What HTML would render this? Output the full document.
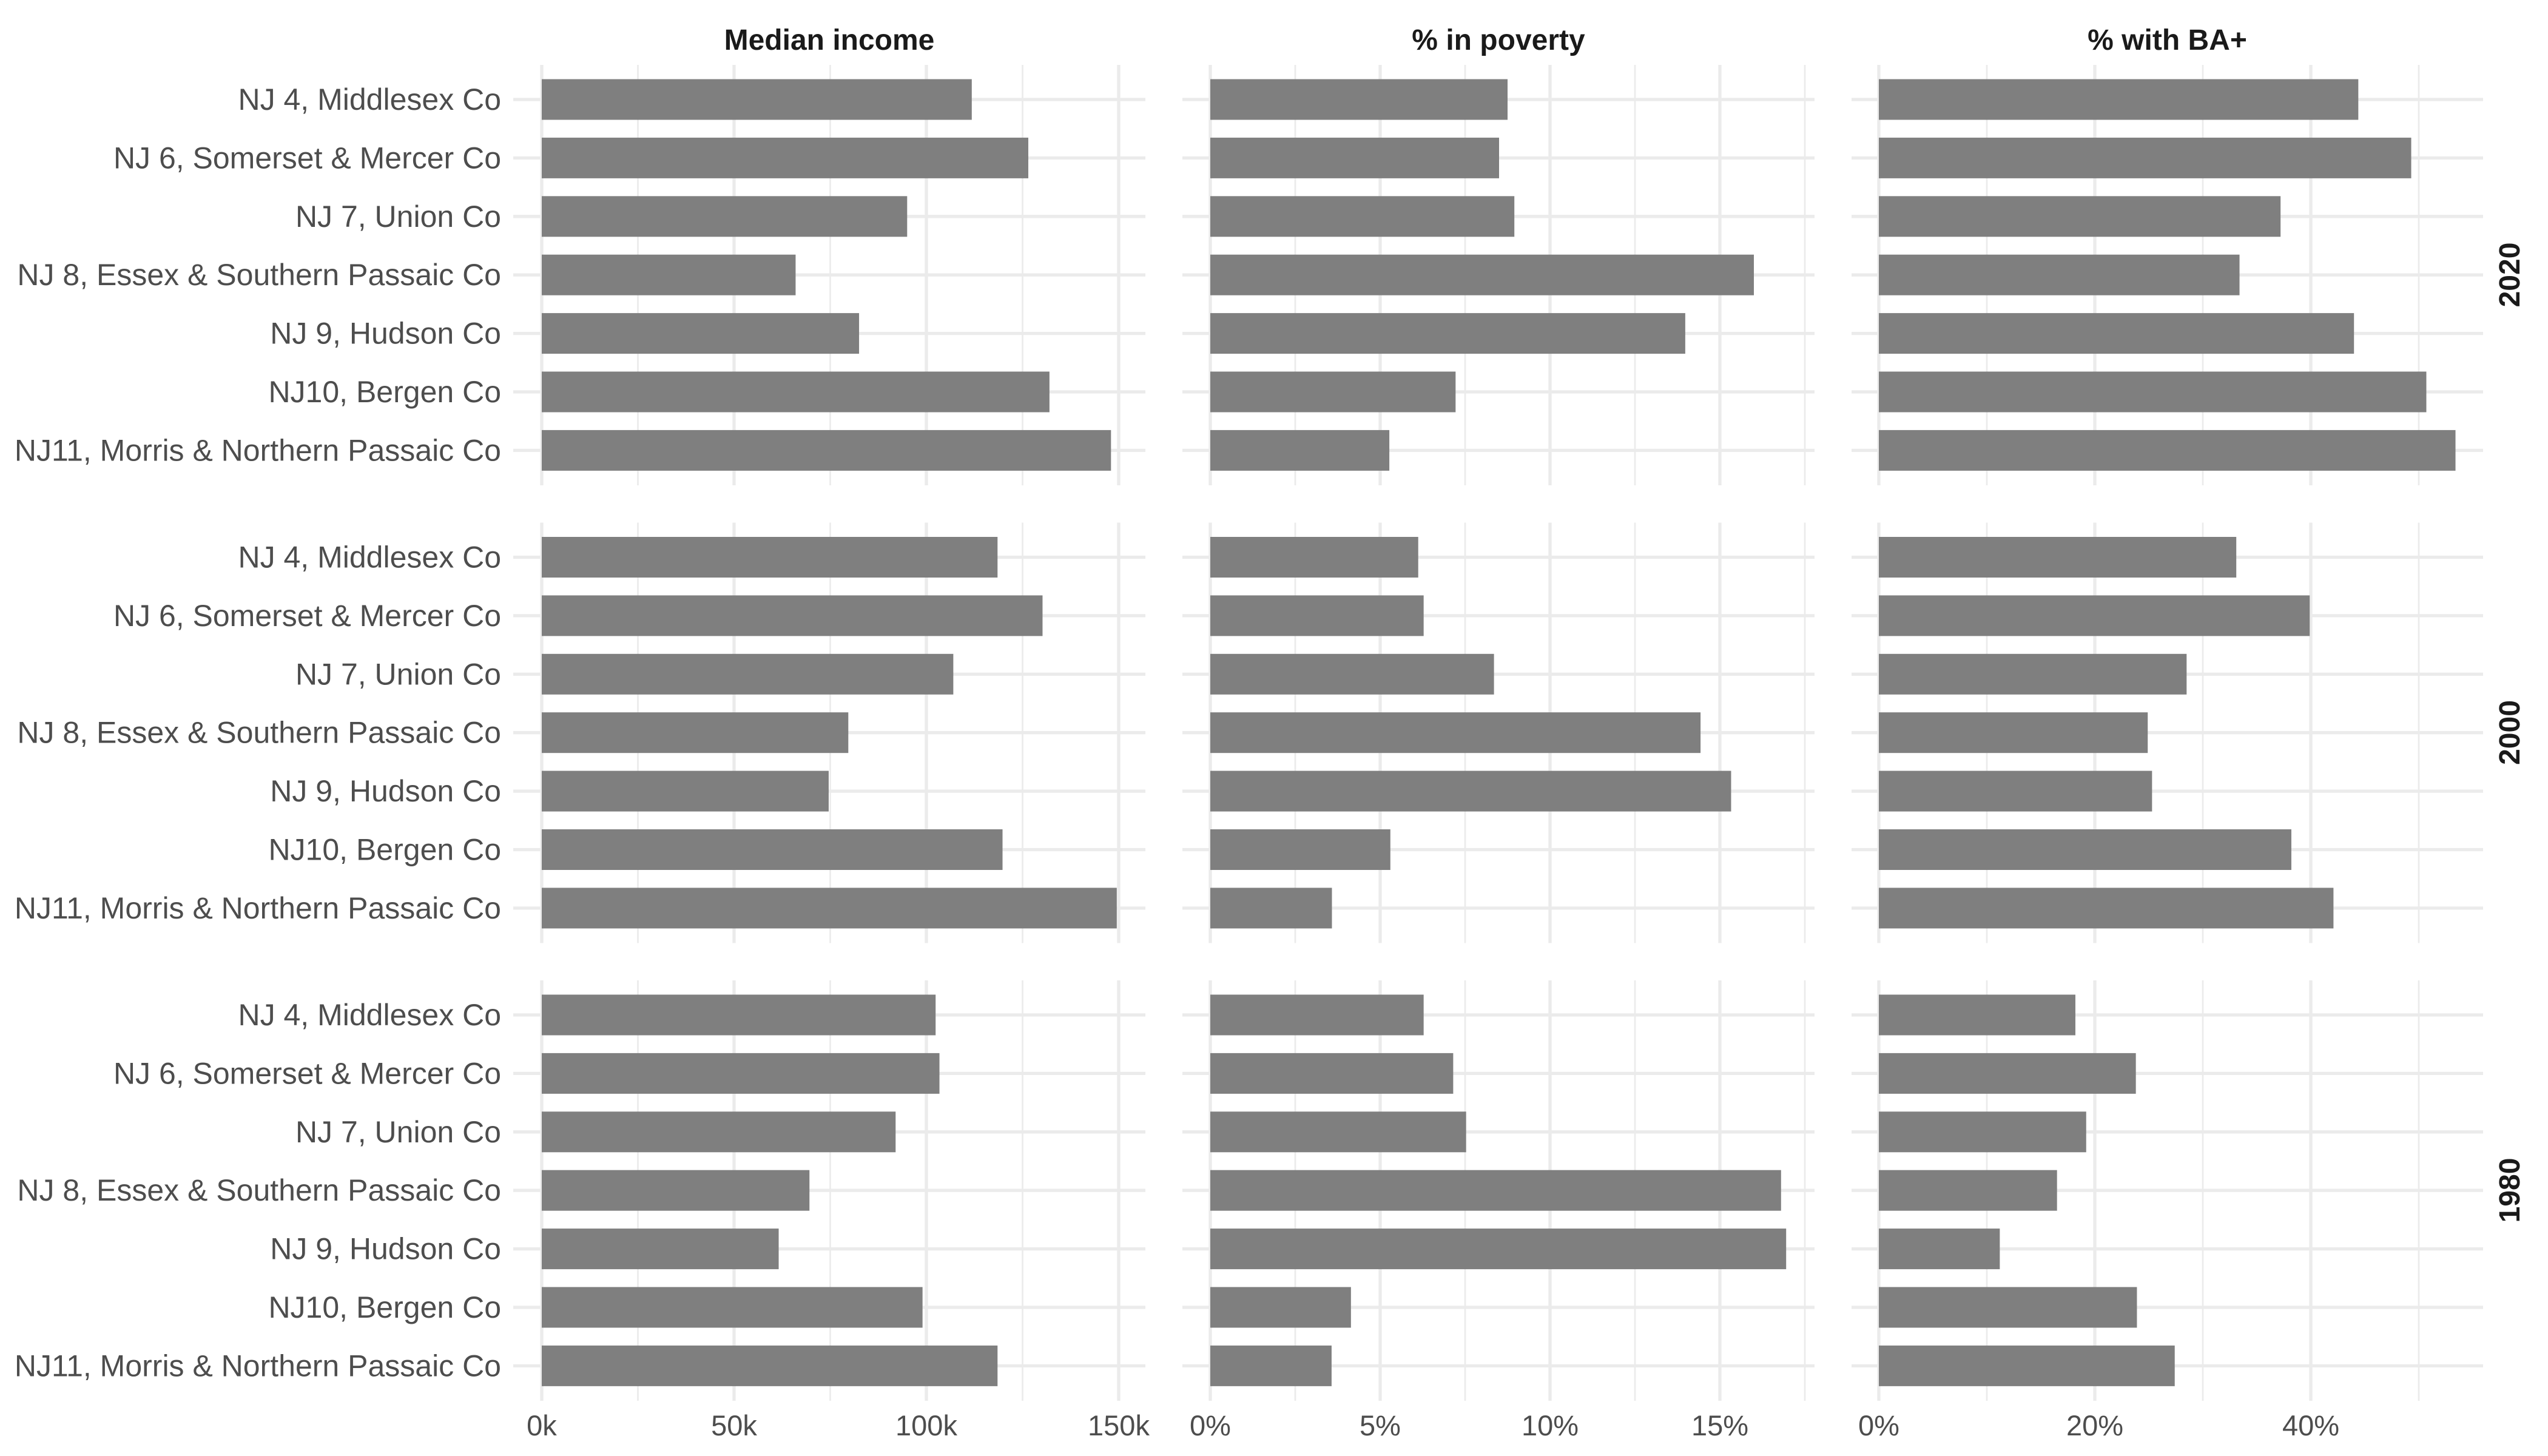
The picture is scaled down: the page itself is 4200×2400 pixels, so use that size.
<!DOCTYPE html>
<html><head><meta charset="utf-8"><style>
html,body{margin:0;padding:0;background:#fff;}
svg{display:block;font-family:"Liberation Sans",Arial,sans-serif;}
</style></head><body>
<svg id="s" xmlns="http://www.w3.org/2000/svg" width="4200" height="2400" viewBox="0 0 4200 2400"></svg>
<script>
const s=document.getElementById('s');let h='';
const labels=["NJ 4, Middlesex Co","NJ 6, Somerset & Mercer Co","NJ 7, Union Co","NJ 8, Essex & Southern Passaic Co","NJ 9, Hudson Co","NJ10, Bergen Co","NJ11, Morris & Northern Passaic Co"];
const cols=[
 {x0:846,x1:1888,z:893,ppu:6.34,major:[0,50,100,150],minor:[25,75,125],lab:["0k","50k","100k","150k"],title:"Median income"},
 {x0:1949,x1:2991,z:1995,ppu:56,major:[0,5,10,15],minor:[2.5,7.5,12.5,17.5],lab:["0%","5%","10%","15%"],title:"% in poverty"},
 {x0:3052,x1:4093,z:3097,ppu:17.8,major:[0,20,40],minor:[10,30,50],lab:["0%","20%","40%"],title:"% with BA+"}
];
const data=[
 [[111.8,126.5,95,66,82.5,132,148],[8.75,8.5,8.95,16.0,13.98,7.22,5.27],[44.4,49.3,37.2,33.4,44.0,50.7,53.4]],
 [[118.5,130.2,107,79.7,74.6,119.8,149.5],[6.12,6.28,8.35,14.43,15.33,5.3,3.58],[33.1,39.9,28.5,24.9,25.3,38.2,42.1]],
 [[102.4,103.4,92,69.6,61.6,99,118.5],[6.28,7.15,7.53,16.8,16.95,4.14,3.57],[18.2,23.8,19.2,16.5,11.2,23.9,27.4]]
];
const years=["2020","2000","1980"];
for(let r=0;r<3;r++){
 const top=107+r*754.5,bot=top+693;
 for(let c=0;c<3;c++){
  const C=cols[c];
  C.minor.forEach(v=>{const x=C.z+v*C.ppu;h+=`<line x1="${x}" y1="${top}" x2="${x}" y2="${bot}" stroke="#ebebeb" stroke-width="2.7"/>`});
  C.major.forEach(v=>{const x=C.z+v*C.ppu;h+=`<line x1="${x}" y1="${top}" x2="${x}" y2="${bot}" stroke="#ebebeb" stroke-width="5.3"/>`});
  for(let i=0;i<7;i++){const y=top+57+i*96.4;h+=`<line x1="${C.x0}" y1="${y}" x2="${C.x1}" y2="${y}" stroke="#ebebeb" stroke-width="5.3"/>`;}
  for(let i=0;i<7;i++){const y=top+57+i*96.4;const w=data[r][c][i]*C.ppu;h+=`<rect x="${C.z}" y="${y-33.5}" width="${w}" height="67" fill="#7f7f7f"/>`;}
 }
 for(let i=0;i<7;i++){const y=top+57+i*96.4;h+=`<text x="826" y="${y+17}" text-anchor="end" font-size="50" fill="#4d4d4d">${labels[i].replace(/&/g,'&amp;')}</text>`;}
 const cy=top+346;h+=`<text transform="translate(4153,${cy}) rotate(-90)" text-anchor="middle" font-size="48" font-weight="bold" fill="#1a1a1a">${years[r]}</text>`;
}
cols.forEach(C=>{
 h+=`<text x="${(C.x0+C.x1)/2}" y="82" text-anchor="middle" font-size="48" font-weight="bold" fill="#1a1a1a">${C.title}</text>`;
 C.major.forEach((v,k)=>{h+=`<text x="${C.z+v*C.ppu}" y="2366" text-anchor="middle" font-size="47" fill="#4d4d4d">${C.lab[k]}</text>`});
});
s.innerHTML=h;
</script>
</body></html>
